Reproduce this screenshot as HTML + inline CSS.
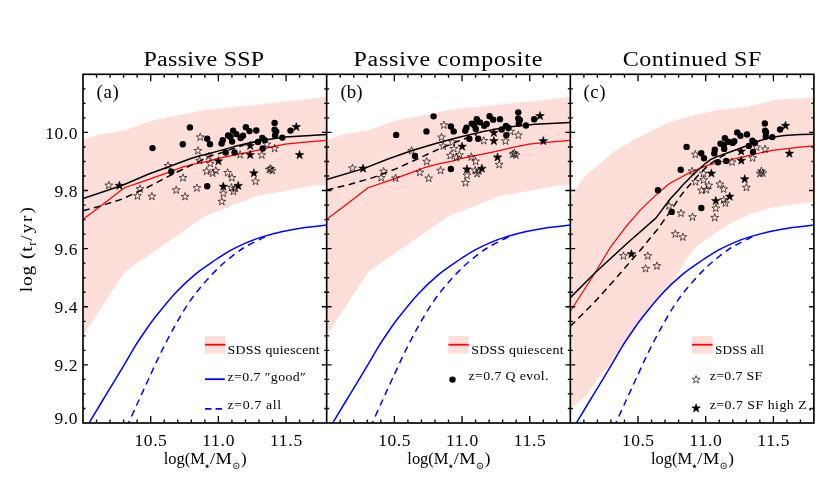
<!DOCTYPE html>
<html><head><meta charset="utf-8"><title>figure</title>
<style>html,body{margin:0;padding:0;background:#fff;}svg{display:block;}text{font-family:"Liberation Serif", serif;fill:#000;}svg{opacity:0.999;will-change:transform;}</style></head><body>
<svg width="830" height="498" viewBox="0 0 830 498">
<rect width="830" height="498" fill="#fff"/>
<defs>
<clipPath id="cp0"><rect x="83" y="74.3" width="243.67" height="348.7"/></clipPath>
<clipPath id="cp1"><rect x="326.67" y="74.3" width="243.67" height="348.7"/></clipPath>
<clipPath id="cp2"><rect x="570.33" y="74.3" width="243.67" height="348.7"/></clipPath>
</defs>
<g clip-path="url(#cp0)">
<polygon fill="#feded8" points="83,140 98,134.7 125,130.2 152.3,120.5 206.5,109.7 248.7,105.5 290.8,101 326.7,97 326.7,184.9 315.8,185.3 286.3,190.8 256.7,196 205.3,216 125,271.6 83,335.5"/>
<path d="M86.2 427C86.73 426.23 86.25 427.52 89.4 422.4C92.55 417.28 99.13 406.18 105.1 396.3C111.07 386.42 120.22 371.43 125.2 363.1C130.18 354.77 131.67 351.65 135 346.3C138.33 340.95 141.85 335.83 145.2 331C148.55 326.17 150.1 323.6 155.1 317.3C160.1 311 168.52 300.37 175.2 293.2C181.88 286.03 188.52 279.83 195.2 274.3C201.88 268.77 209.33 264.02 215.3 260C221.27 255.98 225.77 253.1 231 250.2C236.23 247.3 241.48 244.82 246.7 242.6C251.92 240.38 256.3 238.73 262.3 236.9C268.3 235.07 275.58 233.15 282.7 231.6C289.82 230.05 297.67 228.7 305 227.6C312.33 226.5 323.08 225.43 326.7 225" fill="none" stroke="#0000ff" stroke-width="1.5"/>
<path d="M126.7 427C127.05 426.23 126.72 426.98 128.8 422.4C130.88 417.82 135.78 406.98 139.2 399.5C142.62 392.02 145.63 385.42 149.3 377.5C152.97 369.58 156.88 360.7 161.2 352C165.52 343.3 170.53 333.6 175.2 325.3C179.87 317 184.52 309.07 189.2 302.2C193.88 295.33 198.28 289.95 203.3 284.1C208.32 278.25 214.02 272.12 219.3 267.1C224.58 262.08 230.43 257.52 235 254C239.57 250.48 242.37 248.53 246.7 246C251.03 243.47 257.12 240.6 261 238.8C264.88 237 268.5 235.8 270 235.2" fill="none" stroke="#0000ff" stroke-width="1.5" stroke-dasharray="6.8 4.9"/>
<polyline points="83,219.3 98.8,207.4 124.4,187.8 148.2,179.6 170.4,171.6 180.6,167.7 196,163.7 209.6,160.8 217.1,158.6 234.1,155.2 251.2,151.7 268.2,147.6 285.3,144.1 302.4,142.4 326.7,140.3" fill="none" stroke="#ff0000" stroke-width="1.2" stroke-linejoin="round"/>
<polyline points="83,210.8 98.8,206.5 122.6,198.9 148.2,187 170.4,175.3 190.9,165.4 202.8,159.6 209.6,156.2 217.1,154.2 234.1,148.2 244.4,144.8 255,141.8" fill="none" stroke="#000" stroke-width="1.5" stroke-dasharray="6.8 4.5" stroke-linejoin="round"/>
<polyline points="83,198.5 122.6,185.2 148.2,174.3 168.7,166.7 190.9,158.5 200,155.8 209.6,153.5 217.1,151.4 234.1,146.6 251.2,142.5 268.2,139.4 285.3,137 302.4,135.9 326.7,134.5" fill="none" stroke="#000" stroke-width="1.5" stroke-linejoin="round"/>
<path fill="none" stroke="#000" stroke-width="0.65" d="M108.8 181.25L109.78 184.06L112.75 184.12L110.38 185.91L111.24 188.76L108.8 187.06L106.36 188.76L107.22 185.91L104.85 184.12L107.82 184.06ZM140 184.85L140.98 187.66L143.95 187.72L141.58 189.51L142.44 192.36L140 190.66L137.56 192.36L138.42 189.51L136.05 187.72L139.02 187.66ZM137.5 191.85L138.48 194.66L141.45 194.72L139.08 196.51L139.94 199.36L137.5 197.66L135.06 199.36L135.92 196.51L133.55 194.72L136.52 194.66ZM151.9 192.35L152.88 195.16L155.85 195.22L153.48 197.01L154.34 199.86L151.9 198.16L149.46 199.86L150.32 197.01L147.95 195.22L150.92 195.16ZM168 161.65L168.98 164.46L171.95 164.52L169.58 166.31L170.44 169.16L168 167.46L165.56 169.16L166.42 166.31L164.05 164.52L167.02 164.46ZM183 173.75L183.98 176.56L186.95 176.62L184.58 178.41L185.44 181.26L183 179.56L180.56 181.26L181.42 178.41L179.05 176.62L182.02 176.56ZM176.2 185.95L177.18 188.76L180.15 188.82L177.78 190.61L178.64 193.46L176.2 191.76L173.76 193.46L174.62 190.61L172.25 188.82L175.22 188.76ZM185 192.55L185.98 195.36L188.95 195.42L186.58 197.21L187.44 200.06L185 198.36L182.56 200.06L183.42 197.21L181.05 195.42L184.02 195.36ZM196.9 183.85L197.88 186.66L200.85 186.72L198.48 188.51L199.34 191.36L196.9 189.66L194.46 191.36L195.32 188.51L192.95 186.72L195.92 186.66ZM200.2 133.05L201.18 135.86L204.15 135.92L201.78 137.71L202.64 140.56L200.2 138.86L197.76 140.56L198.62 137.71L196.25 135.92L199.22 135.86ZM197.9 146.65L198.88 149.46L201.85 149.52L199.48 151.31L200.34 154.16L197.9 152.46L195.46 154.16L196.32 151.31L193.95 149.52L196.92 149.46ZM208.8 152.05L209.78 154.86L212.75 154.92L210.38 156.71L211.24 159.56L208.8 157.86L206.36 159.56L207.22 156.71L204.85 154.92L207.82 154.86ZM199.6 156.55L200.58 159.36L203.55 159.42L201.18 161.21L202.04 164.06L199.6 162.36L197.16 164.06L198.02 161.21L195.65 159.42L198.62 159.36ZM210.2 159.45L211.18 162.26L214.15 162.32L211.78 164.11L212.64 166.96L210.2 165.26L207.76 166.96L208.62 164.11L206.25 162.32L209.22 162.26ZM206.6 167.15L207.58 169.96L210.55 170.02L208.18 171.81L209.04 174.66L206.6 172.96L204.16 174.66L205.02 171.81L202.65 170.02L205.62 169.96ZM212.7 169.15L213.68 171.96L216.65 172.02L214.28 173.81L215.14 176.66L212.7 174.96L210.26 176.66L211.12 173.81L208.75 172.02L211.72 171.96ZM215.8 166.55L216.78 169.36L219.75 169.42L217.38 171.21L218.24 174.06L215.8 172.36L213.36 174.06L214.22 171.21L211.85 169.42L214.82 169.36ZM227.6 168.65L228.58 171.46L231.55 171.52L229.18 173.31L230.04 176.16L227.6 174.46L225.16 176.16L226.02 173.31L223.65 171.52L226.62 171.46ZM231.9 173.65L232.88 176.46L235.85 176.52L233.48 178.31L234.34 181.16L231.9 179.46L229.46 181.16L230.32 178.31L227.95 176.52L230.92 176.46ZM240.1 150.55L241.08 153.36L244.05 153.42L241.68 155.21L242.54 158.06L240.1 156.36L237.66 158.06L238.52 155.21L236.15 153.42L239.12 153.36ZM261.8 150.95L262.78 153.76L265.75 153.82L263.38 155.61L264.24 158.46L261.8 156.76L259.36 158.46L260.22 155.61L257.85 153.82L260.82 153.76ZM255.5 177.25L256.48 180.06L259.45 180.12L257.08 181.91L257.94 184.76L255.5 183.06L253.06 184.76L253.92 181.91L251.55 180.12L254.52 180.06ZM266.9 140.25L267.88 143.06L270.85 143.12L268.48 144.91L269.34 147.76L266.9 146.06L264.46 147.76L265.32 144.91L262.95 143.12L265.92 143.06ZM274.6 144.35L275.58 147.16L278.55 147.22L276.18 149.01L277.04 151.86L274.6 150.16L272.16 151.86L273.02 149.01L270.65 147.22L273.62 147.16ZM269.3 165.55L270.28 168.36L273.25 168.42L270.88 170.21L271.74 173.06L269.3 171.36L266.86 173.06L267.72 170.21L265.35 168.42L268.32 168.36ZM272.2 166.55L273.18 169.36L276.15 169.42L273.78 171.21L274.64 174.06L272.2 172.36L269.76 174.06L270.62 171.21L268.25 169.42L271.22 169.36ZM270.7 164.55L271.68 167.36L274.65 167.42L272.28 169.21L273.14 172.06L270.7 170.36L268.26 172.06L269.12 169.21L266.75 167.42L269.72 167.36ZM223.3 189.25L224.28 192.06L227.25 192.12L224.88 193.91L225.74 196.76L223.3 195.06L220.86 196.76L221.72 193.91L219.35 192.12L222.32 192.06ZM221.8 197.45L222.78 200.26L225.75 200.32L223.38 202.11L224.24 204.96L221.8 203.26L219.36 204.96L220.22 202.11L217.85 200.32L220.82 200.26ZM231.4 183.55L232.38 186.36L235.35 186.42L232.98 188.21L233.84 191.06L231.4 189.36L228.96 191.06L229.82 188.21L227.45 186.42L230.42 186.36ZM233.4 187.35L234.38 190.16L237.35 190.22L234.98 192.01L235.84 194.86L233.4 193.16L230.96 194.86L231.82 192.01L229.45 190.22L232.42 190.16ZM235.3 184.45L236.28 187.26L239.25 187.32L236.88 189.11L237.74 191.96L235.3 190.26L232.86 191.96L233.72 189.11L231.35 187.32L234.32 187.26Z"/>
<path fill="#000" stroke="#000" stroke-width="0.5" d="M119.4 181.1L120.48 184.21L123.77 184.28L121.15 186.27L122.1 189.42L119.4 187.54L116.7 189.42L117.65 186.27L115.03 184.28L118.32 184.21ZM218.4 156.6L219.48 159.71L222.77 159.78L220.15 161.77L221.1 164.92L218.4 163.04L215.7 164.92L216.65 161.77L214.03 159.78L217.32 159.71ZM250.2 141.2L251.28 144.31L254.57 144.38L251.95 146.37L252.9 149.52L250.2 147.64L247.5 149.52L248.45 146.37L245.83 144.38L249.12 144.31ZM250.2 150.3L251.28 153.41L254.57 153.48L251.95 155.47L252.9 158.62L250.2 156.74L247.5 158.62L248.45 155.47L245.83 153.48L249.12 153.41ZM253.9 168.6L254.98 171.71L258.27 171.78L255.65 173.77L256.6 176.92L253.9 175.04L251.2 176.92L252.15 173.77L249.53 171.78L252.82 171.71ZM223.3 182L224.38 185.11L227.67 185.18L225.05 187.17L226 190.32L223.3 188.44L220.6 190.32L221.55 187.17L218.93 185.18L222.22 185.11ZM238.2 181.2L239.28 184.31L242.57 184.38L239.95 186.37L240.9 189.52L238.2 187.64L235.5 189.52L236.45 186.37L233.83 184.38L237.12 184.31ZM296.3 122.4L297.38 125.51L300.67 125.58L298.05 127.57L299 130.72L296.3 128.84L293.6 130.72L294.55 127.57L291.93 125.58L295.22 125.51ZM299.6 150.4L300.68 153.51L303.97 153.58L301.35 155.57L302.3 158.72L299.6 156.84L296.9 158.72L297.85 155.57L295.23 153.58L298.52 153.51Z"/>
<g fill="#000"><circle cx="152.5" cy="148.1" r="3.2"/><circle cx="182.8" cy="144.2" r="3.2"/><circle cx="189.9" cy="127.4" r="3.2"/><circle cx="207.2" cy="138.7" r="3.2"/><circle cx="210" cy="144.2" r="3.2"/><circle cx="171.3" cy="171.7" r="3.2"/><circle cx="207.2" cy="186.3" r="3.2"/><circle cx="222.8" cy="140.1" r="3.2"/><circle cx="221.6" cy="143.5" r="3.2"/><circle cx="228.1" cy="135.5" r="3.2"/><circle cx="230.5" cy="137" r="3.2"/><circle cx="233.1" cy="130.7" r="3.2"/><circle cx="236.3" cy="134.1" r="3.2"/><circle cx="232.1" cy="141.6" r="3.2"/><circle cx="240.6" cy="138" r="3.2"/><circle cx="243" cy="135.8" r="3.2"/><circle cx="245.9" cy="127.3" r="3.2"/><circle cx="249.5" cy="131.1" r="3.2"/><circle cx="256.3" cy="130.5" r="3.2"/><circle cx="258" cy="142" r="3.2"/><circle cx="262.3" cy="138" r="3.2"/><circle cx="264.7" cy="140.1" r="3.2"/><circle cx="262.7" cy="148.5" r="3.2"/><circle cx="225.7" cy="152.5" r="3.2"/><circle cx="234.5" cy="152.5" r="3.2"/><circle cx="274.6" cy="122.9" r="3.2"/><circle cx="274.6" cy="129.7" r="3.2"/><circle cx="276.2" cy="131.6" r="3.2"/><circle cx="275.1" cy="135.5" r="3.2"/><circle cx="282.3" cy="137.6" r="3.2"/><circle cx="290.5" cy="130.6" r="3.2"/></g>
</g>
<g clip-path="url(#cp1)">
<polygon fill="#feded8" points="326.67,140 341.67,134.7 368.67,130.2 395.97,120.5 450.17,109.7 492.37,105.5 534.47,101 570.37,97 570.37,184.9 559.47,185.3 529.97,190.8 500.37,196 448.97,216 368.67,271.6 326.67,335.5"/>
<path d="M329.87 427C330.4 426.23 329.92 427.52 333.07 422.4C336.22 417.28 342.8 406.18 348.77 396.3C354.74 386.42 363.89 371.43 368.87 363.1C373.85 354.77 375.34 351.65 378.67 346.3C382 340.95 385.52 335.83 388.87 331C392.22 326.17 393.77 323.6 398.77 317.3C403.77 311 412.19 300.37 418.87 293.2C425.55 286.03 432.19 279.83 438.87 274.3C445.55 268.77 453 264.02 458.97 260C464.94 255.98 469.44 253.1 474.67 250.2C479.9 247.3 485.15 244.82 490.37 242.6C495.59 240.38 499.97 238.73 505.97 236.9C511.97 235.07 519.25 233.15 526.37 231.6C533.49 230.05 541.34 228.7 548.67 227.6C556 226.5 566.75 225.43 570.37 225" fill="none" stroke="#0000ff" stroke-width="1.5"/>
<path d="M370.37 427C370.72 426.23 370.39 426.98 372.47 422.4C374.55 417.82 379.45 406.98 382.87 399.5C386.29 392.02 389.3 385.42 392.97 377.5C396.64 369.58 400.55 360.7 404.87 352C409.19 343.3 414.2 333.6 418.87 325.3C423.54 317 428.19 309.07 432.87 302.2C437.55 295.33 441.95 289.95 446.97 284.1C451.99 278.25 457.69 272.12 462.97 267.1C468.25 262.08 474.1 257.52 478.67 254C483.24 250.48 486.04 248.53 490.37 246C494.7 243.47 500.79 240.6 504.67 238.8C508.55 237 512.17 235.8 513.67 235.2" fill="none" stroke="#0000ff" stroke-width="1.5" stroke-dasharray="6.8 4.9"/>
<polyline points="326.67,219.3 342.47,207.4 368.07,187.8 391.87,179.6 414.07,171.6 424.27,167.7 439.67,163.7 453.27,160.8 460.77,158.6 477.77,155.2 494.87,151.7 511.87,147.6 528.97,144.1 546.07,142.4 570.37,140.3" fill="none" stroke="#ff0000" stroke-width="1.2" stroke-linejoin="round"/>
<polyline points="326.67,190 349.47,184.5 372.97,177.6 396.47,168.6 413.67,160.7 435.67,150.5 445.07,146.6 461.47,139.8 476.67,134.5" fill="none" stroke="#000" stroke-width="1.5" stroke-dasharray="6.8 4.5" stroke-linejoin="round"/>
<polyline points="326.67,179.5 363.57,168.6 388.67,158.8 412.17,150.5 435.67,143.5 455.97,138 483.17,131.6 507.27,127.1 534.97,124.3 570.37,122.4" fill="none" stroke="#000" stroke-width="1.5" stroke-linejoin="round"/>
<path fill="none" stroke="#000" stroke-width="0.65" d="M352.47 164.12L353.45 166.93L356.42 166.99L354.05 168.78L354.91 171.63L352.47 169.93L350.03 171.63L350.89 168.78L348.52 166.99L351.49 166.93ZM383.67 167.34L384.65 170.15L387.62 170.21L385.25 172L386.11 174.85L383.67 173.15L381.23 174.85L382.09 172L379.72 170.21L382.69 170.15ZM381.17 173.61L382.15 176.41L385.12 176.47L382.75 178.27L383.61 181.11L381.17 179.42L378.73 181.11L379.59 178.27L377.22 176.47L380.19 176.41ZM395.57 174.05L396.55 176.86L399.52 176.92L397.15 178.72L398.01 181.56L395.57 179.86L393.13 181.56L393.99 178.72L391.62 176.92L394.59 176.86ZM411.67 146.58L412.65 149.38L415.62 149.44L413.25 151.24L414.11 154.08L411.67 152.39L409.23 154.08L410.09 151.24L407.72 149.44L410.69 149.38ZM426.67 157.41L427.65 160.21L430.62 160.27L428.25 162.07L429.11 164.91L426.67 163.22L424.23 164.91L425.09 162.07L422.72 160.27L425.69 160.21ZM419.87 168.32L420.85 171.13L423.82 171.19L421.45 172.99L422.31 175.83L419.87 174.13L417.43 175.83L418.29 172.99L415.92 171.19L418.89 171.13ZM428.67 174.23L429.65 177.04L432.62 177.1L430.25 178.89L431.11 181.74L428.67 180.04L426.23 181.74L427.09 178.89L424.72 177.1L427.69 177.04ZM440.57 166.44L441.55 169.25L444.52 169.31L442.15 171.11L443.01 173.95L440.57 172.25L438.13 173.95L438.99 171.11L436.62 169.31L439.59 169.25ZM443.87 120.98L444.85 123.79L447.82 123.85L445.45 125.64L446.31 128.49L443.87 126.79L441.43 128.49L442.29 125.64L439.92 123.85L442.89 123.79ZM441.57 133.15L442.55 135.96L445.52 136.02L443.15 137.81L444.01 140.66L441.57 138.96L439.13 140.66L439.99 137.81L437.62 136.02L440.59 135.96ZM452.47 137.98L453.45 140.79L456.42 140.85L454.05 142.65L454.91 145.49L452.47 143.79L450.03 145.49L450.89 142.65L448.52 140.85L451.49 140.79ZM443.27 142.01L444.25 144.82L447.22 144.88L444.85 146.67L445.71 149.52L443.27 147.82L440.83 149.52L441.69 146.67L439.32 144.88L442.29 144.82ZM453.87 144.61L454.85 147.41L457.82 147.47L455.45 149.27L456.31 152.11L453.87 150.42L451.43 152.11L452.29 149.27L449.92 147.47L452.89 147.41ZM450.27 151.5L451.25 154.31L454.22 154.37L451.85 156.16L452.71 159.01L450.27 157.31L447.83 159.01L448.69 156.16L446.32 154.37L449.29 154.31ZM456.37 153.29L457.35 156.1L460.32 156.16L457.95 157.95L458.81 160.8L456.37 159.1L453.93 160.8L454.79 157.95L452.42 156.16L455.39 156.1ZM459.47 150.96L460.45 153.77L463.42 153.83L461.05 155.62L461.91 158.47L459.47 156.77L457.03 158.47L457.89 155.62L455.52 153.83L458.49 153.77ZM471.27 152.84L472.25 155.65L475.22 155.71L472.85 157.5L473.71 160.35L471.27 158.65L468.83 160.35L469.69 157.5L467.32 155.71L470.29 155.65ZM475.57 157.32L476.55 160.12L479.52 160.18L477.15 161.98L478.01 164.82L475.57 163.13L473.13 164.82L473.99 161.98L471.62 160.18L474.59 160.12ZM483.77 136.64L484.75 139.45L487.72 139.51L485.35 141.3L486.21 144.15L483.77 142.45L481.33 144.15L482.19 141.3L479.82 139.51L482.79 139.45ZM505.47 137L506.45 139.81L509.42 139.87L507.05 141.66L507.91 144.51L505.47 142.81L503.03 144.51L503.89 141.66L501.52 139.87L504.49 139.81ZM499.17 160.54L500.15 163.35L503.12 163.41L500.75 165.2L501.61 168.05L499.17 166.35L496.73 168.05L497.59 165.2L495.22 163.41L498.19 163.35ZM510.57 127.42L511.55 130.23L514.52 130.29L512.15 132.09L513.01 134.93L510.57 133.23L508.13 134.93L508.99 132.09L506.62 130.29L509.59 130.23ZM518.27 131.09L519.25 133.9L522.22 133.96L519.85 135.76L520.71 138.6L518.27 136.9L515.83 138.6L516.69 135.76L514.32 133.96L517.29 133.9ZM512.97 150.07L513.95 152.87L516.92 152.93L514.55 154.73L515.41 157.57L512.97 155.88L510.53 157.57L511.39 154.73L509.02 152.93L511.99 152.87ZM515.87 150.96L516.85 153.77L519.82 153.83L517.45 155.62L518.31 158.47L515.87 156.77L513.43 158.47L514.29 155.62L511.92 153.83L514.89 153.77ZM514.37 149.17L515.35 151.98L518.32 152.04L515.95 153.83L516.81 156.68L514.37 154.98L511.93 156.68L512.79 153.83L510.42 152.04L513.39 151.98ZM466.97 171.28L467.95 174.09L470.92 174.15L468.55 175.94L469.41 178.79L466.97 177.09L464.53 178.79L465.39 175.94L463.02 174.15L465.99 174.09ZM465.47 178.62L466.45 181.42L469.42 181.48L467.05 183.28L467.91 186.12L465.47 184.43L463.03 186.12L463.89 183.28L461.52 181.48L464.49 181.42ZM475.07 166.18L476.05 168.98L479.02 169.04L476.65 170.84L477.51 173.68L475.07 171.99L472.63 173.68L473.49 170.84L471.12 169.04L474.09 168.98ZM477.07 169.58L478.05 172.38L481.02 172.45L478.65 174.24L479.51 177.08L477.07 175.39L474.63 177.08L475.49 174.24L473.12 172.45L476.09 172.38ZM478.97 166.98L479.95 169.79L482.92 169.85L480.55 171.64L481.41 174.49L478.97 172.79L476.53 174.49L477.39 171.64L475.02 169.85L477.99 169.79Z"/>
<path fill="#000" stroke="#000" stroke-width="0.5" d="M363.07 163.94L364.15 167.05L367.44 167.12L364.82 169.11L365.77 172.26L363.07 170.38L360.37 172.26L361.32 169.11L358.7 167.12L361.99 167.05ZM462.07 142.01L463.15 145.12L466.44 145.19L463.82 147.18L464.77 150.33L462.07 148.45L459.37 150.33L460.32 147.18L457.7 145.19L460.99 145.12ZM493.87 128.23L494.95 131.34L498.24 131.4L495.62 133.39L496.57 136.55L493.87 134.67L491.17 136.55L492.12 133.39L489.5 131.4L492.79 131.34ZM493.87 136.37L494.95 139.48L498.24 139.55L495.62 141.54L496.57 144.69L493.87 142.81L491.17 144.69L492.12 141.54L489.5 139.55L492.79 139.48ZM497.57 152.75L498.65 155.86L501.94 155.93L499.32 157.92L500.27 161.07L497.57 159.19L494.87 161.07L495.82 157.92L493.2 155.93L496.49 155.86ZM466.97 164.74L468.05 167.85L471.34 167.92L468.72 169.91L469.67 173.06L466.97 171.18L464.27 173.06L465.22 169.91L462.6 167.92L465.89 167.85ZM481.87 164.03L482.95 167.14L486.24 167.2L483.62 169.19L484.57 172.35L481.87 170.47L479.17 172.35L480.12 169.19L477.5 167.2L480.79 167.14ZM539.97 111.4L541.05 114.51L544.34 114.58L541.72 116.57L542.67 119.72L539.97 117.84L537.27 119.72L538.22 116.57L535.6 114.58L538.89 114.51ZM543.27 136.46L544.35 139.57L547.64 139.64L545.02 141.63L545.97 144.78L543.27 142.9L540.57 144.78L541.52 141.63L538.9 139.64L542.19 139.57Z"/>
<g fill="#000"><circle cx="396.17" cy="134.88" r="3.2"/><circle cx="426.47" cy="131.39" r="3.2"/><circle cx="433.57" cy="116.36" r="3.2"/><circle cx="450.87" cy="126.47" r="3.2"/><circle cx="453.67" cy="131.39" r="3.2"/><circle cx="414.97" cy="156.01" r="3.2"/><circle cx="450.87" cy="169.07" r="3.2"/><circle cx="466.47" cy="127.72" r="3.2"/><circle cx="465.27" cy="130.77" r="3.2"/><circle cx="471.77" cy="123.61" r="3.2"/><circle cx="474.17" cy="124.95" r="3.2"/><circle cx="476.77" cy="119.31" r="3.2"/><circle cx="479.97" cy="122.35" r="3.2"/><circle cx="475.77" cy="129.07" r="3.2"/><circle cx="484.27" cy="125.84" r="3.2"/><circle cx="486.67" cy="123.88" r="3.2"/><circle cx="489.57" cy="116.27" r="3.2"/><circle cx="493.17" cy="119.67" r="3.2"/><circle cx="499.97" cy="119.13" r="3.2"/><circle cx="501.67" cy="129.43" r="3.2"/><circle cx="505.97" cy="125.84" r="3.2"/><circle cx="508.37" cy="127.72" r="3.2"/><circle cx="506.37" cy="135.24" r="3.2"/><circle cx="469.37" cy="138.82" r="3.2"/><circle cx="478.17" cy="138.82" r="3.2"/><circle cx="518.27" cy="112.33" r="3.2"/><circle cx="518.27" cy="118.42" r="3.2"/><circle cx="519.87" cy="120.12" r="3.2"/><circle cx="518.77" cy="123.61" r="3.2"/><circle cx="525.97" cy="125.49" r="3.2"/><circle cx="534.17" cy="119.22" r="3.2"/></g>
</g>
<g clip-path="url(#cp2)">
<polygon fill="#feded8" points="570.33,197 584.83,176.2 600.03,163.4 613.83,151.5 637.33,138 666.23,123.5 691.53,115.4 715.03,110.8 723.53,109.2 747.03,106.8 775.23,100.1 801.83,98.2 814.03,97.8 814.03,202 791.63,204.5 770.03,208 749.63,214.5 734.03,221.5 718.33,231 694.93,248 687.03,258.5 677.63,274 672.33,283.5 665.87,290.2 664.2,291.93 662.53,293.7 660.83,295.56 659.07,297.54 657.27,299.6 655.46,301.73 653.65,303.9 651.85,306.07 650.09,308.23 648.38,310.34 646.74,312.38 645.19,314.32 643.75,316.14 642.43,317.8 641.25,319.3 640.19,320.67 639.24,321.92 638.39,323.08 637.6,324.16 636.86,325.2 636.16,326.2 635.47,327.2 634.79,328.21 634.08,329.24 633.33,330.34 632.53,331.5 631.69,332.71 630.84,333.94 629.99,335.18 629.14,336.43 628.28,337.69 627.42,338.96 626.57,340.24 625.71,341.53 624.86,342.83 624.01,344.14 623.17,345.47 622.33,346.8 621.53,348.1 620.79,349.32 620.09,350.51 619.42,351.68 618.74,352.86 618.05,354.08 617.32,355.36 616.54,356.73 615.69,358.21 614.75,359.83 613.71,361.62 612.53,363.6 603.03,372 593.13,385.6 586.13,396.3 570.33,408.5"/>
<path d="M573.53 427C574.06 426.23 573.58 427.52 576.73 422.4C579.88 417.28 586.46 406.18 592.43 396.3C598.4 386.42 607.55 371.43 612.53 363.1C617.51 354.77 619 351.65 622.33 346.3C625.66 340.95 629.18 335.83 632.53 331C635.88 326.17 637.43 323.6 642.43 317.3C647.43 311 655.85 300.37 662.53 293.2C669.21 286.03 675.85 279.83 682.53 274.3C689.21 268.77 696.66 264.02 702.63 260C708.6 255.98 713.1 253.1 718.33 250.2C723.56 247.3 728.81 244.82 734.03 242.6C739.25 240.38 743.63 238.73 749.63 236.9C755.63 235.07 762.91 233.15 770.03 231.6C777.15 230.05 785 228.7 792.33 227.6C799.66 226.5 810.41 225.43 814.03 225" fill="none" stroke="#0000ff" stroke-width="1.5"/>
<path d="M614.03 427C614.38 426.23 614.05 426.98 616.13 422.4C618.21 417.82 623.11 406.98 626.53 399.5C629.95 392.02 632.96 385.42 636.63 377.5C640.3 369.58 644.21 360.7 648.53 352C652.85 343.3 657.86 333.6 662.53 325.3C667.2 317 671.85 309.07 676.53 302.2C681.21 295.33 685.61 289.95 690.63 284.1C695.65 278.25 701.35 272.12 706.63 267.1C711.91 262.08 717.76 257.52 722.33 254C726.9 250.48 729.7 248.53 734.03 246C738.36 243.47 744.45 240.6 748.33 238.8C752.21 237 755.83 235.8 757.33 235.2" fill="none" stroke="#0000ff" stroke-width="1.5" stroke-dasharray="6.8 4.9"/>
<polyline points="570.33,311.3 595.13,272.8 610.13,247.7 625.23,227.7 640.23,210.1 655.33,195.6 668.43,184.3 690.13,172.3 708.23,165.1 720.23,162 744.33,156.6 760.03,153 772.33,150.4 800.03,147.1 814.03,145.8" fill="none" stroke="#ff0000" stroke-width="1.2" stroke-linejoin="round"/>
<polyline points="570.33,326.2 593.83,302.9 615.23,279.1 640.23,250.2 657.83,228.9 672.93,207.6 679.33,197.5 686.53,188.5 693.53,180.6 701.13,172.3 708.73,165 718.13,158.5 725.33,154.6" fill="none" stroke="#000" stroke-width="1.5" stroke-dasharray="6.8 4.5" stroke-linejoin="round"/>
<polyline points="570.33,297.6 595.13,272.8 627.73,242.7 655.83,218.1 670.33,198.8 678.13,190.4 681.63,186.3 691.73,175.9 698.93,169.3 706.23,162.8 711.23,159.2 717.03,156.6 730.03,152 748.23,145.3 760.23,140.5 772.33,137.3 784.33,135.6 800.03,134.5 814.03,134.2" fill="none" stroke="#000" stroke-width="1.5" stroke-linejoin="round"/>
<path fill="none" stroke="#000" stroke-width="0.65" d="M623.5 251.85L624.48 254.66L627.45 254.72L625.08 256.51L625.94 259.36L623.5 257.66L621.06 259.36L621.92 256.51L619.55 254.72L622.52 254.66ZM647.8 251.85L648.78 254.66L651.75 254.72L649.38 256.51L650.24 259.36L647.8 257.66L645.36 259.36L646.22 256.51L643.85 254.72L646.82 254.66ZM645.6 264.55L646.58 267.36L649.55 267.42L647.18 269.21L648.04 272.06L645.6 270.36L643.16 272.06L644.02 269.21L641.65 267.42L644.62 267.36ZM656.9 261.85L657.88 264.66L660.85 264.72L658.48 266.51L659.34 269.36L656.9 267.66L654.46 269.36L655.32 266.51L652.95 264.72L655.92 264.66ZM669 201.85L669.98 204.66L672.95 204.72L670.58 206.51L671.44 209.36L669 207.66L666.56 209.36L667.42 206.51L665.05 204.72L668.02 204.66ZM681 209.15L681.98 211.96L684.95 212.02L682.58 213.81L683.44 216.66L681 214.96L678.56 216.66L679.42 213.81L677.05 212.02L680.02 211.96ZM692.5 212.85L693.48 215.66L696.45 215.72L694.08 217.51L694.94 220.36L692.5 218.66L690.06 220.36L690.92 217.51L688.55 215.72L691.52 215.66ZM714.7 213.55L715.68 216.36L718.65 216.42L716.28 218.21L717.14 221.06L714.7 219.36L712.26 221.06L713.12 218.21L710.75 216.42L713.72 216.36ZM715.8 204.15L716.78 206.96L719.75 207.02L717.38 208.81L718.24 211.66L715.8 209.96L713.36 211.66L714.22 208.81L711.85 207.02L714.82 206.96ZM725.4 199.05L726.38 201.86L729.35 201.92L726.98 203.71L727.84 206.56L725.4 204.86L722.96 206.56L723.82 203.71L721.45 201.92L724.42 201.86ZM675.3 229.85L676.28 232.66L679.25 232.72L676.88 234.51L677.74 237.36L675.3 235.66L672.86 237.36L673.72 234.51L671.35 232.72L674.32 232.66ZM682.8 232.95L683.78 235.76L686.75 235.82L684.38 237.61L685.24 240.46L682.8 238.76L680.36 240.46L681.22 237.61L678.85 235.82L681.82 235.76ZM695.3 150.35L696.28 153.16L699.25 153.22L696.88 155.01L697.74 157.86L695.3 156.16L692.86 157.86L693.72 155.01L691.35 153.22L694.32 153.16ZM692.1 167.15L693.08 169.96L696.05 170.02L693.68 171.81L694.54 174.66L692.1 172.96L689.66 174.66L690.52 171.81L688.15 170.02L691.12 169.96ZM703.4 169.35L704.38 172.16L707.35 172.22L704.98 174.01L705.84 176.86L703.4 175.16L700.96 176.86L701.82 174.01L699.45 172.22L702.42 172.16ZM695.5 177.75L696.48 180.56L699.45 180.62L697.08 182.41L697.94 185.26L695.5 183.56L693.06 185.26L693.92 182.41L691.55 180.62L694.52 180.56ZM703.6 175.95L704.58 178.76L707.55 178.82L705.18 180.61L706.04 183.46L703.6 181.76L701.16 183.46L702.02 180.61L699.65 178.82L702.62 178.76ZM708.8 181.35L709.78 184.16L712.75 184.22L710.38 186.01L711.24 188.86L708.8 187.16L706.36 188.86L707.22 186.01L704.85 184.22L707.82 184.16ZM701.6 186.25L702.58 189.06L705.55 189.12L703.18 190.91L704.04 193.76L701.6 192.06L699.16 193.76L700.02 190.91L697.65 189.12L700.62 189.06ZM706.4 185.65L707.38 188.46L710.35 188.52L707.98 190.31L708.84 193.16L706.4 191.46L703.96 193.16L704.82 190.31L702.45 188.52L705.42 188.46ZM719.9 180.15L720.88 182.96L723.85 183.02L721.48 184.81L722.34 187.66L719.9 185.96L717.46 187.66L718.32 184.81L715.95 183.02L718.92 182.96ZM723.6 185.05L724.58 187.86L727.55 187.92L725.18 189.71L726.04 192.56L723.6 190.86L721.16 192.56L722.02 189.71L719.65 187.92L722.62 187.86ZM732 158.05L732.98 160.86L735.95 160.92L733.58 162.71L734.44 165.56L732 163.86L729.56 165.56L730.42 162.71L728.05 160.92L731.02 160.86ZM752.6 153.85L753.58 156.66L756.55 156.72L754.18 158.51L755.04 161.36L752.6 159.66L750.16 161.36L751.02 158.51L748.65 156.72L751.62 156.66ZM746.4 183.45L747.38 186.26L750.35 186.32L747.98 188.11L748.84 190.96L746.4 189.26L743.96 190.96L744.82 188.11L742.45 186.32L745.42 186.26ZM756.6 143.15L757.58 145.96L760.55 146.02L758.18 147.81L759.04 150.66L756.6 148.96L754.16 150.66L755.02 147.81L752.65 146.02L755.62 145.96ZM765.1 145.05L766.08 147.86L769.05 147.92L766.68 149.71L767.54 152.56L765.1 150.86L762.66 152.56L763.52 149.71L761.15 147.92L764.12 147.86ZM760 169.45L760.98 172.26L763.95 172.32L761.58 174.11L762.44 176.96L760 175.26L757.56 176.96L758.42 174.11L756.05 172.32L759.02 172.26ZM761.4 167.05L762.38 169.86L765.35 169.92L762.98 171.71L763.84 174.56L761.4 172.86L758.96 174.56L759.82 171.71L757.45 169.92L760.42 169.86ZM762.8 169.05L763.78 171.86L766.75 171.92L764.38 173.71L765.24 176.56L762.8 174.86L760.36 176.56L761.22 173.71L758.85 171.92L761.82 171.86ZM723.7 195.85L724.68 198.66L727.65 198.72L725.28 200.51L726.14 203.36L723.7 201.66L721.26 203.36L722.12 200.51L719.75 198.72L722.72 198.66Z"/>
<path fill="#000" stroke="#000" stroke-width="0.5" d="M631.4 249.5L632.48 252.61L635.77 252.68L633.15 254.67L634.1 257.82L631.4 255.94L628.7 257.82L629.65 254.67L627.03 252.68L630.32 252.61ZM711.4 168.9L712.48 172.01L715.77 172.08L713.15 174.07L714.1 177.22L711.4 175.34L708.7 177.22L709.65 174.07L707.03 172.08L710.32 172.01ZM741.2 146.8L742.28 149.91L745.57 149.98L742.95 151.97L743.9 155.12L741.2 153.24L738.5 155.12L739.45 151.97L736.83 149.98L740.12 149.91ZM741.3 156L742.38 159.11L745.67 159.18L743.05 161.17L744 164.32L741.3 162.44L738.6 164.32L739.55 161.17L736.93 159.18L740.22 159.11ZM744.7 174.6L745.78 177.71L749.07 177.78L746.45 179.77L747.4 182.92L744.7 181.04L742 182.92L742.95 179.77L740.33 177.78L743.62 177.71ZM729.7 192L730.78 195.11L734.07 195.18L731.45 197.17L732.4 200.32L729.7 198.44L727 200.32L727.95 197.17L725.33 195.18L728.62 195.11ZM715.8 196.3L716.88 199.41L720.17 199.48L717.55 201.47L718.5 204.62L715.8 202.74L713.1 204.62L714.05 201.47L711.43 199.48L714.72 199.41ZM785.5 121.1L786.58 124.21L789.87 124.28L787.25 126.27L788.2 129.42L785.5 127.54L782.8 129.42L783.75 126.27L781.13 124.28L784.42 124.21ZM789.4 149L790.48 152.11L793.77 152.18L791.15 154.17L792.1 157.32L789.4 155.44L786.7 157.32L787.65 154.17L785.03 152.18L788.32 152.11Z"/>
<g fill="#000"><circle cx="658" cy="190.3" r="3.2"/><circle cx="671.7" cy="211.9" r="3.2"/><circle cx="701.3" cy="208" r="3.2"/><circle cx="680.7" cy="169.8" r="3.2"/><circle cx="686.6" cy="146.9" r="3.2"/><circle cx="701.2" cy="153.2" r="3.2"/><circle cx="704" cy="158.2" r="3.2"/><circle cx="714.8" cy="149.8" r="3.2"/><circle cx="714.3" cy="153.4" r="3.2"/><circle cx="720.5" cy="143.8" r="3.2"/><circle cx="724.2" cy="148.9" r="3.2"/><circle cx="724.8" cy="138.1" r="3.2"/><circle cx="728.4" cy="141.8" r="3.2"/><circle cx="732.6" cy="142.9" r="3.2"/><circle cx="734.3" cy="141.3" r="3.2"/><circle cx="737.2" cy="132.4" r="3.2"/><circle cx="740.4" cy="135.7" r="3.2"/><circle cx="747" cy="134.5" r="3.2"/><circle cx="748.8" cy="145.9" r="3.2"/><circle cx="752.4" cy="140.7" r="3.2"/><circle cx="754.8" cy="142.8" r="3.2"/><circle cx="753" cy="151.9" r="3.2"/><circle cx="718" cy="162.2" r="3.2"/><circle cx="726.2" cy="160.9" r="3.2"/><circle cx="764.8" cy="123.5" r="3.2"/><circle cx="765.1" cy="130.7" r="3.2"/><circle cx="766" cy="132.3" r="3.2"/><circle cx="765.7" cy="136.5" r="3.2"/><circle cx="772.3" cy="137.1" r="3.2"/><circle cx="780.1" cy="129.5" r="3.2"/><circle cx="724" cy="144.6" r="3.2"/></g>
</g>
<rect x="205" y="336" width="20.3" height="17.5" fill="#feded8"/>
<line x1="205" y1="344.7" x2="225.3" y2="344.7" stroke="#f00" stroke-width="1.8"/>
<text transform="translate(227.6 353.6) scale(1.1 1)" font-size="12.6" textLength="83.64" lengthAdjust="spacing">SDSS quiescent</text>
<line x1="205" y1="379.2" x2="224.8" y2="379.2" stroke="#00f" stroke-width="1.8"/>
<text transform="translate(227.6 380.6) scale(1.1 1)" font-size="12.6" textLength="71.18" lengthAdjust="spacing">z=0.7 &#8243;good&#8243;</text>
<line x1="205" y1="408.8" x2="222" y2="408.8" stroke="#00f" stroke-width="1.8" stroke-dasharray="6.5 4"/>
<text transform="translate(227.6 408.8) scale(1.1 1)" font-size="12.6" textLength="48.73" lengthAdjust="spacing">z=0.7 all</text>
<rect x="448.5" y="336" width="20.3" height="17.5" fill="#feded8"/>
<line x1="448.5" y1="344.7" x2="468.8" y2="344.7" stroke="#f00" stroke-width="1.8"/>
<text transform="translate(471.2 353.6) scale(1.1 1)" font-size="12.6" textLength="83.91" lengthAdjust="spacing">SDSS quiescent</text>
<circle cx="452.5" cy="379.6" r="3.2" fill="#000"/>
<text transform="translate(468.6 379.8) scale(1.1 1)" font-size="12.6" textLength="72.64" lengthAdjust="spacing">z=0.7 Q evol.</text>
<rect x="692" y="336" width="20.5" height="17.5" fill="#feded8"/>
<line x1="692" y1="344.7" x2="712.5" y2="344.7" stroke="#f00" stroke-width="1.8"/>
<text transform="translate(715.1 353.6) scale(1.05 1)" font-size="12.6" textLength="46.48" lengthAdjust="spacing">SDSS all</text>
<path fill="none" stroke="#000" stroke-width="0.65" d="M696.1 375.45L697.08 378.26L700.05 378.32L697.68 380.11L698.54 382.96L696.1 381.26L693.66 382.96L694.52 380.11L692.15 378.32L695.12 378.26Z"/>
<text transform="translate(709.7 379.8) scale(1.1 1)" font-size="12.6" textLength="47.82" lengthAdjust="spacing">z=0.7 SF</text>
<path fill="#000" stroke="#000" stroke-width="0.5" d="M696.1 403.7L697.18 406.81L700.47 406.88L697.85 408.87L698.8 412.02L696.1 410.14L693.4 412.02L694.35 408.87L691.73 406.88L695.02 406.81Z"/>
<text transform="translate(709.7 408.5) scale(1.1 1)" font-size="12.6" textLength="88.18" lengthAdjust="spacing">z=0.7 SF high Z</text>
<path fill="#000" d="M810.3 407.3L810.75 408.59L812.11 408.61L811.02 409.43L811.42 410.74L810.3 409.96L809.18 410.74L809.58 409.43L808.49 408.61L809.85 408.59Z"/>
<g stroke="#000" stroke-width="1.65" fill="none" stroke-linecap="butt">
<rect x="83" y="74.3" width="730.9" height="348.7"/>
<line x1="326.67" y1="74.3" x2="326.67" y2="423"/>
<line x1="570.33" y1="74.3" x2="570.33" y2="423"/>
</g>
<path d="M96.54 423L96.54 419.5M96.54 74.3L96.54 77.8M110.07 423L110.07 419.5M110.07 74.3L110.07 77.8M123.61 423L123.61 419.5M123.61 74.3L123.61 77.8M137.15 423L137.15 419.5M137.15 74.3L137.15 77.8M150.69 423L150.69 416M150.69 74.3L150.69 81.3M164.22 423L164.22 419.5M164.22 74.3L164.22 77.8M177.76 423L177.76 419.5M177.76 74.3L177.76 77.8M191.3 423L191.3 419.5M191.3 74.3L191.3 77.8M204.84 423L204.84 419.5M204.84 74.3L204.84 77.8M218.37 423L218.37 416M218.37 74.3L218.37 81.3M231.91 423L231.91 419.5M231.91 74.3L231.91 77.8M245.45 423L245.45 419.5M245.45 74.3L245.45 77.8M258.98 423L258.98 419.5M258.98 74.3L258.98 77.8M272.52 423L272.52 419.5M272.52 74.3L272.52 77.8M286.06 423L286.06 416M286.06 74.3L286.06 81.3M299.6 423L299.6 419.5M299.6 74.3L299.6 77.8M313.13 423L313.13 419.5M313.13 74.3L313.13 77.8M83 408.47L85.5 408.47M326.67 408.47L324.17 408.47M83 393.94L85.5 393.94M326.67 393.94L324.17 393.94M83 379.41L85.5 379.41M326.67 379.41L324.17 379.41M83 364.88L87.9 364.88M326.67 364.88L321.77 364.88M83 350.35L85.5 350.35M326.67 350.35L324.17 350.35M83 335.82L85.5 335.82M326.67 335.82L324.17 335.82M83 321.3L85.5 321.3M326.67 321.3L324.17 321.3M83 306.77L87.9 306.77M326.67 306.77L321.77 306.77M83 292.24L85.5 292.24M326.67 292.24L324.17 292.24M83 277.71L85.5 277.71M326.67 277.71L324.17 277.71M83 263.18L85.5 263.18M326.67 263.18L324.17 263.18M83 248.65L87.9 248.65M326.67 248.65L321.77 248.65M83 234.12L85.5 234.12M326.67 234.12L324.17 234.12M83 219.59L85.5 219.59M326.67 219.59L324.17 219.59M83 205.06L85.5 205.06M326.67 205.06L324.17 205.06M83 190.53L87.9 190.53M326.67 190.53L321.77 190.53M83 176L85.5 176M326.67 176L324.17 176M83 161.47L85.5 161.47M326.67 161.47L324.17 161.47M83 146.95L85.5 146.95M326.67 146.95L324.17 146.95M83 132.42L87.9 132.42M326.67 132.42L321.77 132.42M83 117.89L85.5 117.89M326.67 117.89L324.17 117.89M83 103.36L85.5 103.36M326.67 103.36L324.17 103.36M83 88.83L85.5 88.83M326.67 88.83L324.17 88.83M340.21 423L340.21 419.5M340.21 74.3L340.21 77.8M353.74 423L353.74 419.5M353.74 74.3L353.74 77.8M367.28 423L367.28 419.5M367.28 74.3L367.28 77.8M380.82 423L380.82 419.5M380.82 74.3L380.82 77.8M394.36 423L394.36 416M394.36 74.3L394.36 81.3M407.89 423L407.89 419.5M407.89 74.3L407.89 77.8M421.43 423L421.43 419.5M421.43 74.3L421.43 77.8M434.97 423L434.97 419.5M434.97 74.3L434.97 77.8M448.51 423L448.51 419.5M448.51 74.3L448.51 77.8M462.04 423L462.04 416M462.04 74.3L462.04 81.3M475.58 423L475.58 419.5M475.58 74.3L475.58 77.8M489.12 423L489.12 419.5M489.12 74.3L489.12 77.8M502.65 423L502.65 419.5M502.65 74.3L502.65 77.8M516.19 423L516.19 419.5M516.19 74.3L516.19 77.8M529.73 423L529.73 416M529.73 74.3L529.73 81.3M543.27 423L543.27 419.5M543.27 74.3L543.27 77.8M556.8 423L556.8 419.5M556.8 74.3L556.8 77.8M326.67 408.47L329.17 408.47M570.34 408.47L567.84 408.47M326.67 393.94L329.17 393.94M570.34 393.94L567.84 393.94M326.67 379.41L329.17 379.41M570.34 379.41L567.84 379.41M326.67 364.88L331.57 364.88M570.34 364.88L565.44 364.88M326.67 350.35L329.17 350.35M570.34 350.35L567.84 350.35M326.67 335.82L329.17 335.82M570.34 335.82L567.84 335.82M326.67 321.3L329.17 321.3M570.34 321.3L567.84 321.3M326.67 306.77L331.57 306.77M570.34 306.77L565.44 306.77M326.67 292.24L329.17 292.24M570.34 292.24L567.84 292.24M326.67 277.71L329.17 277.71M570.34 277.71L567.84 277.71M326.67 263.18L329.17 263.18M570.34 263.18L567.84 263.18M326.67 248.65L331.57 248.65M570.34 248.65L565.44 248.65M326.67 234.12L329.17 234.12M570.34 234.12L567.84 234.12M326.67 219.59L329.17 219.59M570.34 219.59L567.84 219.59M326.67 205.06L329.17 205.06M570.34 205.06L567.84 205.06M326.67 190.53L331.57 190.53M570.34 190.53L565.44 190.53M326.67 176L329.17 176M570.34 176L567.84 176M326.67 161.47L329.17 161.47M570.34 161.47L567.84 161.47M326.67 146.95L329.17 146.95M570.34 146.95L567.84 146.95M326.67 132.42L331.57 132.42M570.34 132.42L565.44 132.42M326.67 117.89L329.17 117.89M570.34 117.89L567.84 117.89M326.67 103.36L329.17 103.36M570.34 103.36L567.84 103.36M326.67 88.83L329.17 88.83M570.34 88.83L567.84 88.83M583.87 423L583.87 419.5M583.87 74.3L583.87 77.8M597.4 423L597.4 419.5M597.4 74.3L597.4 77.8M610.94 423L610.94 419.5M610.94 74.3L610.94 77.8M624.48 423L624.48 419.5M624.48 74.3L624.48 77.8M638.02 423L638.02 416M638.02 74.3L638.02 81.3M651.55 423L651.55 419.5M651.55 74.3L651.55 77.8M665.09 423L665.09 419.5M665.09 74.3L665.09 77.8M678.63 423L678.63 419.5M678.63 74.3L678.63 77.8M692.17 423L692.17 419.5M692.17 74.3L692.17 77.8M705.7 423L705.7 416M705.7 74.3L705.7 81.3M719.24 423L719.24 419.5M719.24 74.3L719.24 77.8M732.78 423L732.78 419.5M732.78 74.3L732.78 77.8M746.31 423L746.31 419.5M746.31 74.3L746.31 77.8M759.85 423L759.85 419.5M759.85 74.3L759.85 77.8M773.39 423L773.39 416M773.39 74.3L773.39 81.3M786.93 423L786.93 419.5M786.93 74.3L786.93 77.8M800.46 423L800.46 419.5M800.46 74.3L800.46 77.8M570.33 408.47L572.83 408.47M814 408.47L811.5 408.47M570.33 393.94L572.83 393.94M814 393.94L811.5 393.94M570.33 379.41L572.83 379.41M814 379.41L811.5 379.41M570.33 364.88L575.23 364.88M814 364.88L809.1 364.88M570.33 350.35L572.83 350.35M814 350.35L811.5 350.35M570.33 335.82L572.83 335.82M814 335.82L811.5 335.82M570.33 321.3L572.83 321.3M814 321.3L811.5 321.3M570.33 306.77L575.23 306.77M814 306.77L809.1 306.77M570.33 292.24L572.83 292.24M814 292.24L811.5 292.24M570.33 277.71L572.83 277.71M814 277.71L811.5 277.71M570.33 263.18L572.83 263.18M814 263.18L811.5 263.18M570.33 248.65L575.23 248.65M814 248.65L809.1 248.65M570.33 234.12L572.83 234.12M814 234.12L811.5 234.12M570.33 219.59L572.83 219.59M814 219.59L811.5 219.59M570.33 205.06L572.83 205.06M814 205.06L811.5 205.06M570.33 190.53L575.23 190.53M814 190.53L809.1 190.53M570.33 176L572.83 176M814 176L811.5 176M570.33 161.47L572.83 161.47M814 161.47L811.5 161.47M570.33 146.95L572.83 146.95M814 146.95L811.5 146.95M570.33 132.42L575.23 132.42M814 132.42L809.1 132.42M570.33 117.89L572.83 117.89M814 117.89L811.5 117.89M570.33 103.36L572.83 103.36M814 103.36L811.5 103.36M570.33 88.83L572.83 88.83M814 88.83L811.5 88.83" stroke="#000" stroke-width="1.35" fill="none"/>
<text transform="translate(143.5 66) scale(1.17 1)" font-size="20.5" textLength="103.16" lengthAdjust="spacing">Passive SSP</text>
<text transform="translate(353.5 66) scale(1.17 1)" font-size="20.5" textLength="161.37" lengthAdjust="spacing">Passive composite</text>
<text transform="translate(622.7 66) scale(1.17 1)" font-size="20.5" textLength="118.46" lengthAdjust="spacing">Continued SF</text>
<text transform="translate(96.6 98.4) scale(1.05 1)" font-size="18" textLength="21.05" lengthAdjust="spacing">(a)</text>
<text transform="translate(340.5 98.4) scale(1.05 1)" font-size="18" textLength="20.95" lengthAdjust="spacing">(b)</text>
<text transform="translate(583.6 98.4) scale(1.05 1)" font-size="18" textLength="20.86" lengthAdjust="spacing">(c)</text>
<text transform="translate(45.2 139.02) scale(1.0 1)" font-size="17.5" textLength="32.2" lengthAdjust="spacing">10.0</text>
<text transform="translate(54.6 197.13) scale(1.0 1)" font-size="17.5" textLength="22.8" lengthAdjust="spacing">9.8</text>
<text transform="translate(54.6 255.25) scale(1.0 1)" font-size="17.5" textLength="22.8" lengthAdjust="spacing">9.6</text>
<text transform="translate(54.6 313.37) scale(1.0 1)" font-size="17.5" textLength="22.8" lengthAdjust="spacing">9.4</text>
<text transform="translate(54.6 371.48) scale(1.0 1)" font-size="17.5" textLength="22.8" lengthAdjust="spacing">9.2</text>
<text transform="translate(54.6 423.8) scale(1.0 1)" font-size="17.5" textLength="22.8" lengthAdjust="spacing">9.0</text>
<text transform="translate(134.59 445.8) scale(1.0 1)" font-size="17.5" textLength="32.2" lengthAdjust="spacing">10.5</text>
<text transform="translate(202.27 445.8) scale(1.0 1)" font-size="17.5" textLength="32.2" lengthAdjust="spacing">11.0</text>
<text transform="translate(269.96 445.8) scale(1.0 1)" font-size="17.5" textLength="32.2" lengthAdjust="spacing">11.5</text>
<text transform="translate(378.26 445.8) scale(1.0 1)" font-size="17.5" textLength="32.2" lengthAdjust="spacing">10.5</text>
<text transform="translate(445.94 445.8) scale(1.0 1)" font-size="17.5" textLength="32.2" lengthAdjust="spacing">11.0</text>
<text transform="translate(513.63 445.8) scale(1.0 1)" font-size="17.5" textLength="32.2" lengthAdjust="spacing">11.5</text>
<text transform="translate(621.92 445.8) scale(1.0 1)" font-size="17.5" textLength="32.2" lengthAdjust="spacing">10.5</text>
<text transform="translate(689.6 445.8) scale(1.0 1)" font-size="17.5" textLength="32.2" lengthAdjust="spacing">11.0</text>
<text transform="translate(757.29 445.8) scale(1.0 1)" font-size="17.5" textLength="32.2" lengthAdjust="spacing">11.5</text>
<g transform="translate(163.63,464.4)">
<text transform="translate(0 0) scale(0.97 1)" font-size="17" textLength="42.47" lengthAdjust="spacing">log(M</text>
<path fill="#000" d="M43.5 -0.6L44.09 1.09L45.88 1.13L44.45 2.21L44.97 3.92L43.5 2.9L42.03 3.92L42.55 2.21L41.12 1.13L42.91 1.09Z"/>
<text transform="translate(46.4 0) scale(1.08 1)" font-size="17" textLength="20.28" lengthAdjust="spacing">/M</text>
<circle cx="72.7" cy="1.5" r="2.8" fill="none" stroke="#000" stroke-width="0.8"/>
<circle cx="72.7" cy="1.5" r="0.75" fill="#000"/>
<text x="77.4" y="0" font-size="17">)</text>
</g>
<g transform="translate(407.31,464.4)">
<text transform="translate(0 0) scale(0.97 1)" font-size="17" textLength="42.47" lengthAdjust="spacing">log(M</text>
<path fill="#000" d="M43.5 -0.6L44.09 1.09L45.88 1.13L44.45 2.21L44.97 3.92L43.5 2.9L42.03 3.92L42.55 2.21L41.12 1.13L42.91 1.09Z"/>
<text transform="translate(46.4 0) scale(1.08 1)" font-size="17" textLength="20.28" lengthAdjust="spacing">/M</text>
<circle cx="72.7" cy="1.5" r="2.8" fill="none" stroke="#000" stroke-width="0.8"/>
<circle cx="72.7" cy="1.5" r="0.75" fill="#000"/>
<text x="77.4" y="0" font-size="17">)</text>
</g>
<g transform="translate(650.97,464.4)">
<text transform="translate(0 0) scale(0.97 1)" font-size="17" textLength="42.47" lengthAdjust="spacing">log(M</text>
<path fill="#000" d="M43.5 -0.6L44.09 1.09L45.88 1.13L44.45 2.21L44.97 3.92L43.5 2.9L42.03 3.92L42.55 2.21L41.12 1.13L42.91 1.09Z"/>
<text transform="translate(46.4 0) scale(1.08 1)" font-size="17" textLength="20.28" lengthAdjust="spacing">/M</text>
<circle cx="72.7" cy="1.5" r="2.8" fill="none" stroke="#000" stroke-width="0.8"/>
<circle cx="72.7" cy="1.5" r="0.75" fill="#000"/>
<text x="77.4" y="0" font-size="17">)</text>
</g>
<g transform="translate(32.1,292.3) rotate(-90)">
<text transform="translate(0 0) scale(1.1 1)" font-size="17.5" textLength="41.82" lengthAdjust="spacing">log (t</text>
<text x="46.6" y="3.8" font-size="12.5">r</text>
<text transform="translate(51.6 0) scale(1.1 1)" font-size="17.5" textLength="30.45" lengthAdjust="spacing">/yr)</text>
</g>
</svg></body></html>
